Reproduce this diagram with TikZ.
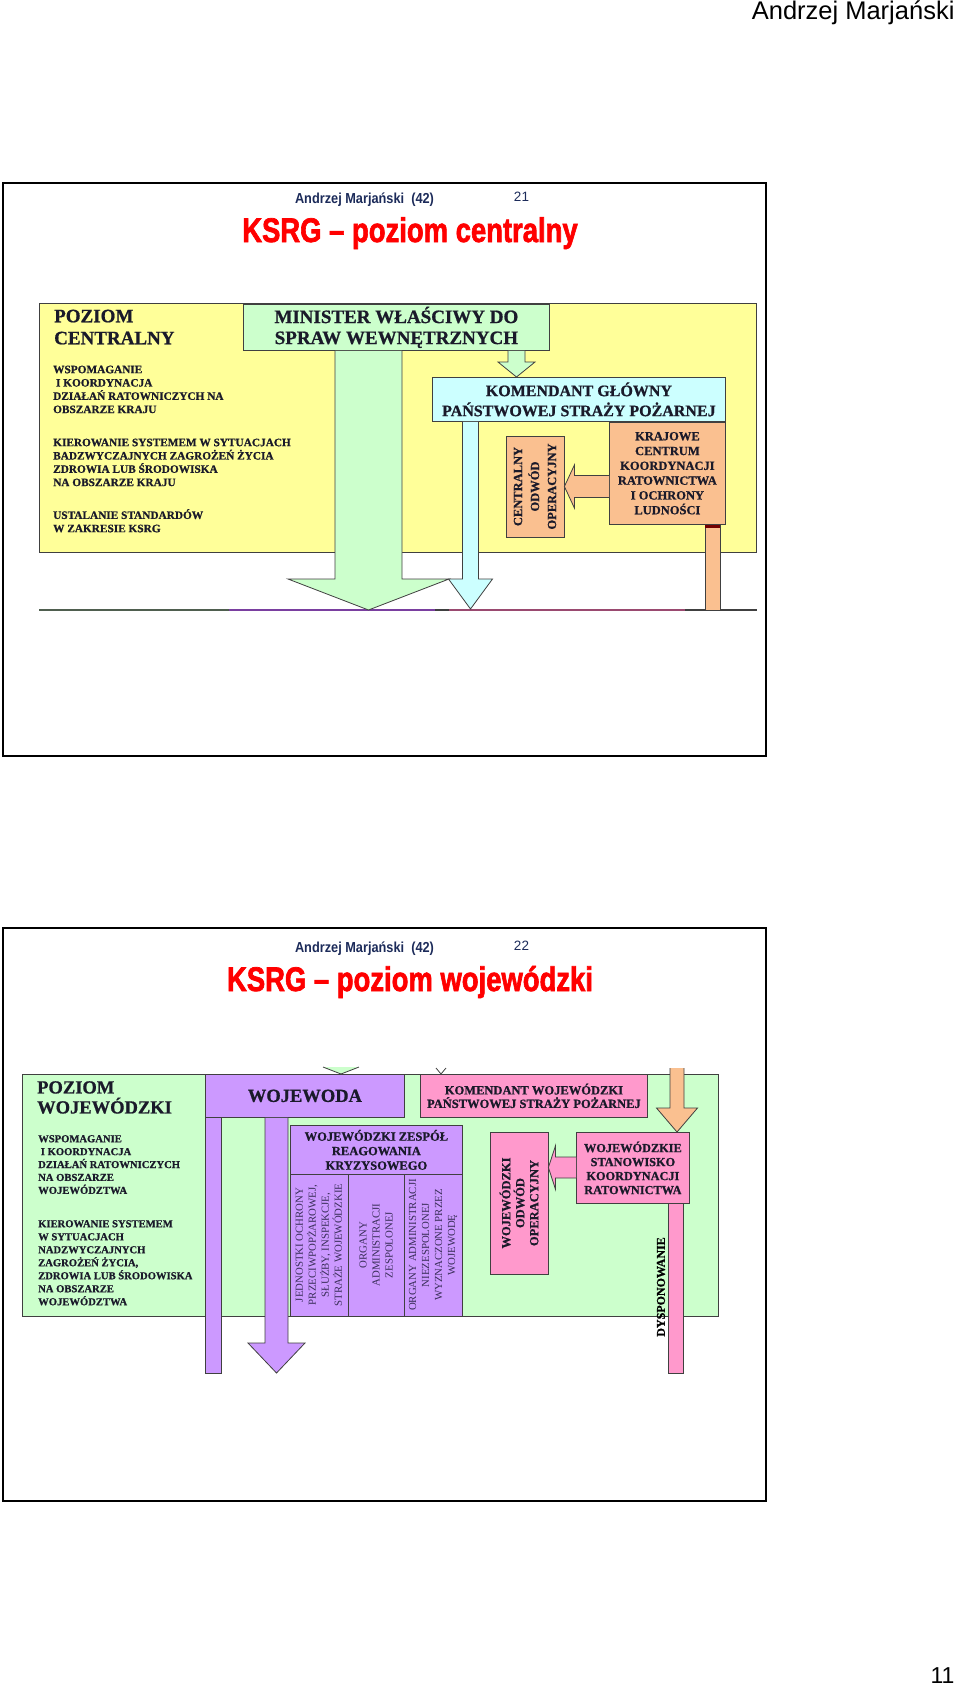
\documentclass[tikz,border=0pt]{standalone}
\usepackage{fontspec}
\usepackage{graphicx}
\setmainfont{Liberation Serif}[BoldFeatures={FakeBold=0.8}]
\newfontfamily\headsf[FakeStretch=0.88]{Liberation Sans}
\newfontfamily\titlesf[FakeBold=2.2]{Liberation Sans}
\newfontfamily\plainsf{Liberation Sans}
\usetikzlibrary{calc,positioning}

\definecolor{yel}{HTML}{FFFF99}
\definecolor{lgreen}{HTML}{CCFFCC}
\definecolor{lcyan}{HTML}{CCFFFF}
\definecolor{tan}{HTML}{FAC090}
\definecolor{lpurple}{HTML}{CC99FF}
\definecolor{lpink}{HTML}{FF99CC}
\definecolor{boxline}{HTML}{404040}
\definecolor{ink}{HTML}{1A1A2A}
\definecolor{navy}{HTML}{1C2B5A}
\definecolor{colink}{HTML}{3A2E5A}
\definecolor{seggreen}{HTML}{4F5F4F}
\definecolor{segpurple}{HTML}{7A3FA0}
\definecolor{segred}{HTML}{9A4A70}

\newcommand{\fsz}[2]{\fontsize{#1}{#2}\selectfont}
% colour, from, tip, half shaft, half head, head length
\newcommand{\downblock}[6]{%
  \draw[blk, fill=#1] ($(#2)+(-#4,0)$) -- ($(#3)+(-#4,-#6)$) -- ($(#3)+(-#5,-#6)$)
    -- (#3) -- ($(#3)+(#5,-#6)$) -- ($(#3)+(#4,-#6)$) -- ($(#2)+(#4,0)$);}
\newcommand{\leftblock}[6]{%
  \draw[blk, fill=#1] ($(#2)+(0,-#4)$) -- ($(#3)+(#6,-#4)$) -- ($(#3)+(#6,-#5)$)
    -- (#3) -- ($(#3)+(#6,#5)$) -- ($(#3)+(#6,#4)$) -- ($(#2)+(0,#4)$);}

\begin{document}
\begin{tikzpicture}[
    x=1pt, y=-1pt,
    slide/.style={draw=black, line width=2.3pt, inner sep=0pt, anchor=north west},
    area/.style={draw=boxline, line width=0.8pt, inner sep=0pt, anchor=north west},
    box/.style={draw=boxline, line width=0.8pt, inner sep=0pt, align=center,
    text=ink, font=\bfseries},
    colbox/.style={box, rotate=90, fill=lpurple, minimum width=142, minimum height=58,
    text=colink, font=\fsz{10.8}{13}},
    lefttext/.style={anchor=north west, inner sep=0pt, align=left, text=ink},
    blk/.style={draw=boxline, line width=0.8pt, line join=miter},
    seg/.style={line width=1.2pt}
]
\useasboundingbox[fill=white] (0,0) rectangle (960,1687);
\node[anchor=base east, font=\plainsf\fsz{25.5}{28}] (author) at (958,19.5) {Andrzej Marjański};
\node[anchor=base east, font=\plainsf\fsz{23}{25}] (pageno) at (958,1683) {11};

\node[slide, minimum width=763, minimum height=573] (s21) at (2,182) {};
\node[anchor=base, text=navy, font=\headsf\bfseries\fsz{14.5}{16}] (auth21) at (364.5,203) {Andrzej Marjański\ \ (42)};
\node[anchor=base, text=navy, font=\plainsf\fsz{13.5}{15}] (no21) at (521.5,201) {21};
\node[anchor=base, text=red, font=\titlesf\bfseries\fsz{28}{30}] (t21) at (410,242) {\scalebox{0.98}[1.22]{KSRG – poziom centralny}};

\node[area, fill=yel, minimum width=717, minimum height=249] (central) at (39,303) {};
\node[lefttext, font=\bfseries\fsz{19}{22}] (pc) at (54,309.5) {POZIOM\\CENTRALNY};
\node[lefttext, font=\bfseries\fsz{11.3}{13.3}] (pc1) at (53,365.5) {WSPOMAGANIE\\\ I KOORDYNACJA\\DZIAŁAŃ RATOWNICZYCH NA\\OBSZARZE KRAJU};
\node[lefttext, font=\bfseries\fsz{11.3}{13.3}] (pc2) at (53,438.5) {KIEROWANIE SYSTEMEM W SYTUACJACH\\BADZWYCZAJNYCH ZAGROŻEŃ ŻYCIA\\ZDROWIA LUB ŚRODOWISKA\\NA OBSZARZE KRAJU};
\node[lefttext, font=\bfseries\fsz{11.3}{13.3}] (pc3) at (53,509) {USTALANIE STANDARDÓW\\W ZAKRESIE KSRG};

\node[box, fill=lgreen, anchor=north west, minimum width=306, minimum height=46, font=\bfseries\fsz{19}{21}] (mswia) at (243,304) {MINISTER WŁAŚCIWY DO\\SPRAW WEWNĘTRZNYCH};
\node[box, fill=lcyan, anchor=north west, minimum width=293, minimum height=44, font=\bfseries\fsz{16}{20}] (kgpsp) at (432,377) {KOMENDANT GŁÓWNY\\PAŃSTWOWEJ STRAŻY POŻARNEJ};
\node[box, fill=tan, below left=0pt and 0pt of kgpsp.south east, minimum width=116, minimum height=102, font=\bfseries\fsz{12.5}{14.8}] (kckr) {KRAJOWE\\CENTRUM\\KOORDYNACJI\\RATOWNICTWA\\I OCHRONY\\LUDNOŚCI};
\node[box, fill=tan, rotate=90, minimum width=101, minimum height=58, font=\bfseries\fsz{12.5}{17}] (cood) at (535,486.5) {CENTRALNY\\ODWÓD\\OPERACYJNY};

\draw[seg, seggreen] (39,610) -- (229,610);
\draw[seg, segpurple] (229,610) -- (435,610);
\draw[seg, boxline] (435,610) -- (449,610);
\draw[seg, segred] (449,610) -- (685,610);
\draw[seg, boxline] (685,610) -- (757,610);

\coordinate (gtip) at (368.5,610);
\coordinate (gtop) at (mswia.south -| gtip);
\downblock{lgreen}{gtop}{gtip}{33.5}{80.5}{31}
\coordinate (stip) at (516.5,377);
\coordinate (stop) at (mswia.south -| stip);
\downblock{lgreen}{stop}{stip}{8.5}{18.5}{15}
\coordinate (ctip) at (470.5,609);
\coordinate (ctop) at (kgpsp.south -| ctip);
\downblock{lcyan}{ctop}{ctip}{8}{22}{30}
\coordinate (otip) at (cood.south);
\coordinate (ostart) at (kckr.west |- otip);
\leftblock{tan}{ostart}{otip}{11}{21.5}{10}
\coordinate (obot) at (712.5,610);
\coordinate (otop) at (kckr.south -| obot);
\draw[blk, fill=tan] ($(otop)+(-7.5,0)$) rectangle ($(obot)+(7.5,0)$);
\fill[red!45!black] ($(otop)+(-7.5,0)$) rectangle ($(otop)+(7.5,3)$);

\node[slide, minimum width=763, minimum height=573] (s22) at (2,927) {};
\node[anchor=base, text=navy, font=\headsf\bfseries\fsz{14.5}{16}] (auth22) at (364.5,952) {Andrzej Marjański\ \ (42)};
\node[anchor=base, text=navy, font=\plainsf\fsz{13.5}{15}] (no22) at (521.5,950) {22};
\node[anchor=base, text=red, font=\titlesf\bfseries\fsz{28}{30}] (t22) at (410,991) {\scalebox{0.98}[1.22]{KSRG – poziom wojewódzki}};

\node[area, fill=lgreen, minimum width=696, minimum height=242] (wojew) at (22,1074) {};
\node[lefttext, font=\bfseries\fsz{18.5}{20}] (pw) at (37,1081) {POZIOM\\WOJEWÓDZKI};
\node[lefttext, font=\bfseries\fsz{10.6}{12.9}] (pw1) at (38,1135) {WSPOMAGANIE\\\ I KOORDYNACJA\\DZIAŁAŃ RATOWNICZYCH\\NA OBSZARZE\\WOJEWÓDZTWA};
\node[lefttext, font=\bfseries\fsz{10.6}{13}] (pw2) at (38,1220) {KIEROWANIE SYSTEMEM\\W SYTUACJACH\\NADZWYCZAJNYCH\\ZAGROŻEŃ ŻYCIA,\\ZDROWIA LUB ŚRODOWISKA\\NA OBSZARZE\\WOJEWÓDZTWA};

\node[box, fill=lpurple, anchor=north west, minimum width=199, minimum height=43, font=\bfseries\fsz{18.5}{20}] (wojewoda) at (205,1074) {WOJEWODA};
\node[box, fill=lpink, anchor=north west, minimum width=227, minimum height=43, font=\bfseries\fsz{12.5}{13.5}] (kwpsp) at (420,1074) {KOMENDANT WOJEWÓDZKI\\PAŃSTWOWEJ STRAŻY POŻARNEJ};
\node[box, fill=lpurple, anchor=north west, minimum width=172, minimum height=49, font=\bfseries\fsz{12.5}{14.5}] (wzzk) at (290,1125) {WOJEWÓDZKI ZESPÓŁ\\REAGOWANIA\\KRYZYSOWEGO};
\node[colbox] (jop) at (319,1245) {JEDNOSTKI OCHRONY\\PRZECIWPOPŻAROWEJ,\\SŁUŻBY, INSPEKCJE,\\STRAŻE WOJEWÓDZKIE};
\node[colbox, minimum height=56] (oaz) at (376,1245) {ORGANY\\ADMINISTRACJI\\ZESPOLONEJ};
\node[colbox] (oan) at (433,1245) {ORGANY ADMINISTRACJI\\NIEZESPOLONEJ\\WYZNACZONE PRZEZ\\WOJEWODĘ};
\node[box, fill=lpink, rotate=90, minimum width=142, minimum height=58, font=\bfseries\fsz{12.5}{14}] (wood) at (519,1203) {WOJEWÓDZKI\\ODWÓD\\OPERACYJNY};
\node[box, fill=lpink, anchor=north west, minimum width=113, minimum height=71, font=\bfseries\fsz{12.3}{14}] (wskr) at (576,1132) {WOJEWÓDZKIE\\STANOWISKO\\KOORDYNACJI\\RATOWNICTWA};

\coordinate (gv) at (341,1074);
\draw[blk, fill=lgreen] ($(gv)+(-18,-7)$) -- (gv) -- ($(gv)+(18,-7)$);
\coordinate (cv) at (441,1074);
\draw[blk] ($(cv)+(-5,-6)$) -- (cv) -- ($(cv)+(5,-6)$);

\coordinate (pbot) at (213,1373);
\coordinate (ptop) at (wojewoda.south -| pbot);
\draw[blk, fill=lpurple] ($(ptop)+(-8,0)$) rectangle ($(pbot)+(8,0)$);
\coordinate (wtip) at (276.5,1373);
\coordinate (wtop) at (wojewoda.south -| wtip);
\downblock{lpurple}{wtop}{wtip}{11.5}{28.5}{30}
\coordinate (ostart2) at (677,1068);
\coordinate (otip2) at (wskr.north -| ostart2);
\downblock{tan}{ostart2}{otip2}{7}{20.5}{24}
\coordinate (parr) at (560,1167.5);
\coordinate (ptip) at (wood.south |- parr);
\coordinate (pstart) at (wskr.west |- parr);
\leftblock{lpink}{pstart}{ptip}{10.5}{21.5}{7}
\coordinate (dbot) at (675.5,1373);
\coordinate (dtop) at (wskr.south -| dbot);
\draw[blk, fill=lpink] ($(dtop)+(-7.5,0)$) rectangle ($(dbot)+(7.5,0)$);
\node[rotate=90, inner sep=0pt, text=black, font=\bfseries\fsz{12}{14}] (disp) at (661,1287) {DYSPONOWANIE};
\end{tikzpicture}
\end{document}
